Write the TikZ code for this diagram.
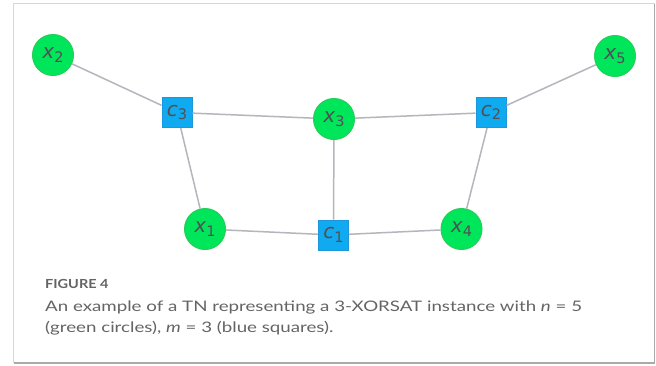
\documentclass[tikz,border=0pt]{standalone}
\usepackage{fontspec}
\setmainfont{Lato}
\newfontfamily\labfont{DejaVu Sans}
\newfontfamily\capfont[FakeStretch=1.29]{Lato}
\newfontfamily\figfont[FakeStretch=1.16]{Lato}
\definecolor{vgreen}{RGB}{0,230,90}
\definecolor{vgreenb}{RGB}{40,205,90}
\definecolor{cblue}{RGB}{16,170,240}
\definecolor{cblueb}{RGB}{30,150,220}
\definecolor{edgec}{RGB}{180,182,188}
\definecolor{labc}{RGB}{80,80,85}
\definecolor{capc}{RGB}{100,100,100}
\definecolor{framec}{RGB}{215,215,215}
\definecolor{framed}{RGB}{170,170,170}
\newcommand{\vlab}[2]{{\labfont\fontsize{20}{20}\selectfont\itshape #1\raisebox{-3.5pt}{\upshape\fontsize{14.5}{14.5}\selectfont #2}}}
\tikzset{
  varnode/.style={circle, fill=vgreen, draw=vgreenb, line width=1pt, minimum size=41pt, inner sep=0pt, text=labc},
  facnode/.style={rectangle, fill=cblue, draw=cblueb, line width=1pt, minimum size=30pt, inner sep=0pt, text=labc},
  edge/.style={draw=edgec, line width=1.5pt},
  captext/.style={anchor=base west, inner sep=0pt, text=capc}
}
\begin{document}
\begin{tikzpicture}[x=1pt,y=-1pt]
\useasboundingbox (0,0) rectangle (656,365);
\fill[white] (0,0) rectangle (656,365);
\draw[framec, line width=1pt] (13.5,363) -- (13.5,3.5) -- (654.5,3.5);
\draw[framed, line width=1.2pt] (13.5,363) -- (654.5,363) -- (654.5,3.5);
% nodes
\node[varnode] (x2) at (53,55) {\vlab{x}{2}};
\node[varnode] (x5) at (615,56) {\vlab{x}{5}};
\node[varnode] (x3) at (334,119) {\vlab{x}{3}};
\node[varnode] (x1) at (205,229) {\vlab{x}{1}};
\node[varnode] (x4) at (461.5,229) {\vlab{x}{4}};
\node[facnode] (c3) at (177,112.5) {\vlab{c}{3}};
\node[facnode] (c2) at (491,112.5) {\vlab{c}{2}};
\node[facnode] (c1) at (333.5,235) {\vlab{c}{1}};
% edges
\path[edge] (x2) -- (c3);
\path[edge] (c3) -- (x3);
\path[edge] (x3) -- (c2);
\path[edge] (c2) -- (x5);
\path[edge] (c3) -- (x1);
\path[edge] (x3) -- (c1);
\path[edge] (c2) -- (x4);
\path[edge] (x1) -- (c1);
\path[edge] (c1) -- (x4);
% caption
\node[captext, font=\figfont\fontsize{12.5}{12.5}\selectfont\bfseries] (fig) at (45,288.5) {FIGURE 4};
\node[captext, font=\capfont\fontsize{14.5}{14.5}\selectfont] (cap1) at (45,311) {An example of a TN representing a 3-XORSAT instance with \textit{n} = 5};
\node[captext, font=\capfont\fontsize{14.5}{14.5}\selectfont] (cap2) at (45,332) {(green circles), \textit{m} = 3 (blue squares).};
\end{tikzpicture}
\end{document}
